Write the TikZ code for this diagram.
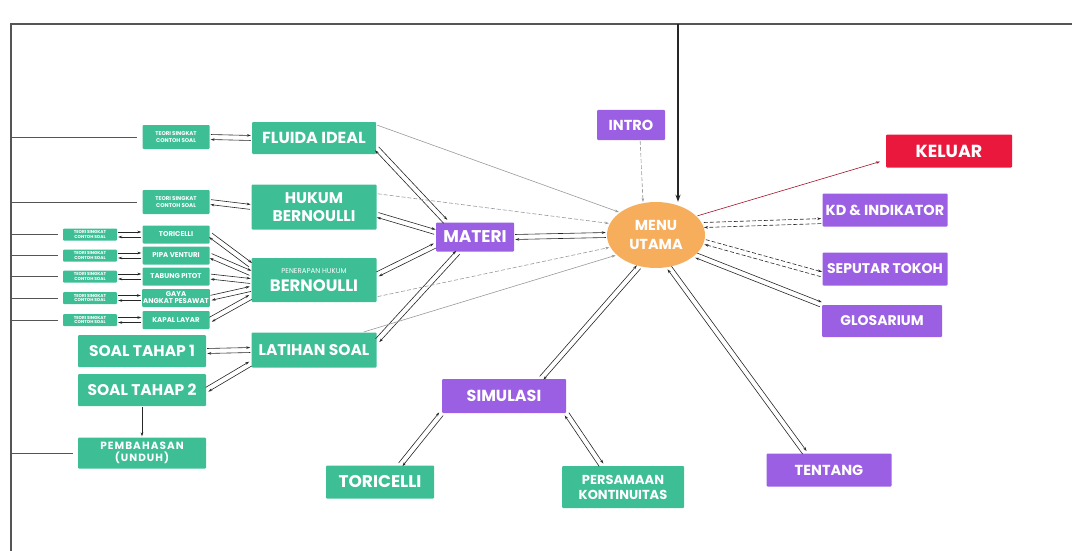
\documentclass[tikz,border=0pt]{standalone}
\usepackage{fontspec}
\setmainfont{Poppins}
\usetikzlibrary{arrows.meta,calc,shapes.geometric}
\definecolor{gr}{HTML}{3DBE95}
\definecolor{pu}{HTML}{9A5FE3}
\definecolor{og}{HTML}{F6AE5C}
\definecolor{rd}{HTML}{EA183D}
\definecolor{frm}{HTML}{555555}
\newcommand\biarr[3][]{%
  \draw[arr,#1] ($(#2)!2.5pt!90:(#3)$) -- ($(#3)!2.5pt!-90:(#2)$);
  \draw[arr,#1] ($(#3)!2.5pt!90:(#2)$) -- ($(#2)!2.5pt!-90:(#3)$);}
\newcommand\fs[2]{\bfseries\fontsize{#1}{#2}\selectfont}
\begin{document}
\begin{tikzpicture}[x=1pt,y=-1pt,
  box/.style={text=white,align=center,inner sep=1pt,rounded corners=1pt},
  gbox/.style={box,fill=gr},
  pbox/.style={box,fill=pu},
  arr/.style={-{Stealth[length=4pt,width=2.6pt]},line width=0.6pt,black!85,shorten >=1pt,shorten <=1pt},
  garr/.style={arr,black!40},
  dsh/.style={dash pattern=on 4pt off 2pt},
  frame/.style={line width=1.3pt,frm}]
\useasboundingbox (0,0) rectangle (1072,551);
\coordinate (L) at (11,24);
\coordinate (R) at (1072,24);
\coordinate (B) at (11,551);
\coordinate (top) at (678,24);
\draw[frame] (B) -- (L) -- (R);

% green nodes
\node[gbox,minimum width=124pt,minimum height=32pt,font=\fs{16}{18}] (fluida) at (314,138) {FLUIDA IDEAL};
\node[gbox,minimum width=125pt,minimum height=45pt,font=\fs{15.5}{18}] (hukum) at (314,207) {HUKUM\\BERNOULLI};
\node[gbox,minimum width=125pt,minimum height=44pt,font=\bfseries] (pen) at (314,280) {{\fontsize{7}{8}\selectfont\mdseries PENERAPAN HUKUM}\\[6pt]{\fontsize{16.5}{17}\selectfont BERNOULLI}};
\node[gbox,minimum width=125pt,minimum height=35pt,font=\fs{15.5}{18}] (lat) at (314,350) {LATIHAN SOAL};
\node[gbox,minimum width=128pt,minimum height=32pt,font=\fs{15.5}{18}] (soal1) at (142,351) {SOAL TAHAP 1};
\node[gbox,minimum width=128pt,minimum height=32pt,font=\fs{15.5}{18}] (soal2) at (142,390) {SOAL TAHAP 2};
\node[gbox,minimum width=128pt,minimum height=31pt,font=\fs{10.5}{12}\addfontfeatures{LetterSpace=10}] (pemb) at (142,453) {PEMBAHASAN\\(UNDUH)};
\node[gbox,minimum width=67pt,minimum height=24pt,font=\fs{5.5}{7}] (s1) at (176,137) {TEORI SINGKAT\\CONTOH SOAL};
\node[gbox,minimum width=67pt,minimum height=24pt,font=\fs{5.5}{7}] (s2) at (176,202) {TEORI SINGKAT\\CONTOH SOAL};
\foreach \n/\y/\t in {1/234.5/TORICELLI,2/255.5/PIPA VENTURI,3/276.5/TABUNG PITOT,4/298/{GAYA\\ANGKAT PESAWAT},5/320/KAPAL LAYAR}{
  \node[gbox,minimum width=67pt,minimum height=18pt,font=\fs{7}{7}] (m\n) at (176,\y) {\t};
  \node[gbox,minimum width=54pt,minimum height=12pt,font=\fs{4.3}{4.8}] (l\n) at (90,\y) {TEORI SINGKAT\\CONTOH SOAL};
}
\node[gbox,minimum width=108pt,minimum height=33pt,font=\fs{17}{18}] (tor) at (380,482) {TORICELLI};
\node[gbox,minimum width=122pt,minimum height=42pt,font=\fs{13}{15}] (pers) at (623,487) {PERSAMAAN\\KONTINUITAS};

% purple nodes
\node[pbox,minimum width=78pt,minimum height=29pt,font=\fs{17}{18}] (materi) at (475,237) {MATERI};
\node[pbox,minimum width=68pt,minimum height=30pt,font=\fs{14.5}{16}] (intro) at (631,125) {INTRO};
\node[pbox,minimum width=124pt,minimum height=34pt,font=\fs{16}{18}] (sim) at (504,396) {SIMULASI};
\node[pbox,minimum width=125pt,minimum height=33pt,font=\fs{14.5}{16}] (kd) at (885,210) {KD \& INDIKATOR};
\node[pbox,minimum width=125pt,minimum height=33pt,font=\fs{14}{16}] (tokoh) at (885,269) {SEPUTAR TOKOH};
\node[pbox,minimum width=120pt,minimum height=32pt,font=\fs{14}{16}] (glos) at (882,321) {GLOSARIUM};
\node[pbox,minimum width=125pt,minimum height=33pt,font=\fs{14.5}{16}] (tent) at (829,470) {TENTANG};
\node[box,fill=rd,minimum width=126pt,minimum height=33pt,font=\fs{17.5}{18}] (kel) at (949,151) {KELUAR};
\node[ellipse,fill=og,text=white,inner sep=0pt,minimum width=98pt,minimum height=66pt,align=center,font=\fs{14.5}{19}] (menu) at (656,235) {MENU\\UTAMA};

% left tree
\foreach \n in {s1,s2,pemb}{\draw[frame,line width=0.9pt] (L |- \n.west) -- ([xshift=-5pt]\n.west);}
\foreach \n in {1,...,5}{\draw[frame,line width=0.9pt] (L |- l\n.west) -- ([xshift=-5pt]l\n.west);}

% top entry arrow
\draw[-{Stealth[length=7pt,width=5pt]},line width=1.6pt,black!85] (top) -- (top |- menu.north);

% left connectors
\biarr{s1.east}{fluida.west}
\biarr{s2.east}{hukum.west}
\foreach \n in {1,...,5}{\biarr{l\n.east}{m\n.west}}
\biarr{m1.east}{pen.167}
\biarr{m2.east}{pen.174}
\biarr{m3.east}{pen.181}
\biarr{m4.east}{pen.188}
\biarr{m5.east}{pen.195}
\biarr{soal1.east}{lat.west}
\biarr{soal2.east}{lat.192}
\draw[arr] (soal2.south) -- (pemb.north);

% materi connectors
\biarr{fluida.351}{materi.153}
\biarr{hukum.353}{materi.173}
\biarr{pen.5}{materi.192}
\biarr{lat.8}{materi.222}
\biarr{materi.east}{menu.west}

% grey lines to menu
\draw[garr] (fluida.12) -- (menu.148);
\draw[garr,dsh] (hukum.12) -- (menu.166);
\draw[garr,dsh] (pen.345) -- (menu.195);
\draw[garr] (lat.20) -- (menu.207);
\draw[garr,dsh] (intro.301) -- (menu.112);

% right connectors
\draw[arr,rd!70!black,shorten >=6pt] (menu.25) -- (kel.188);
\biarr[dsh]{menu.12}{kd.190}
\biarr[dsh]{menu.352}{tokoh.185}
\biarr{menu.333}{glos.165}
\biarr{menu.242}{sim.25}
\biarr{menu.292}{tent.145}
\biarr{sim.south west}{tor.40}
\biarr{sim.south east}{pers.135}
\end{tikzpicture}
\end{document}
